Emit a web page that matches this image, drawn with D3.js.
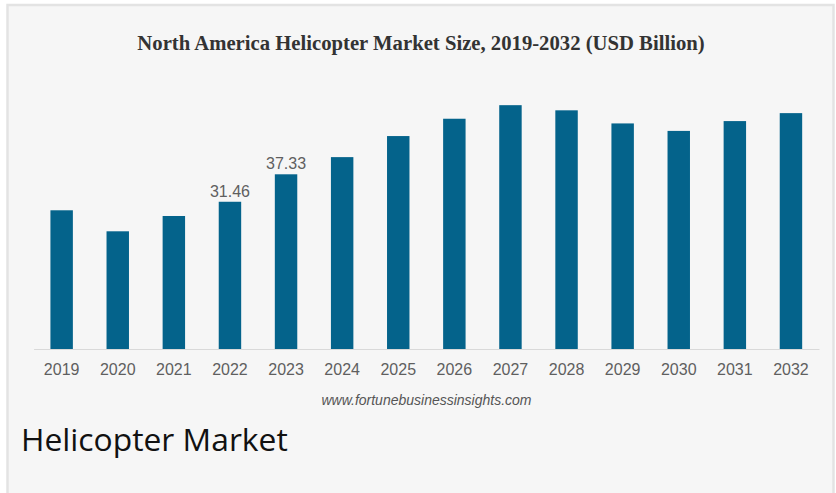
<!DOCTYPE html>
<html>
<head>
<meta charset="utf-8">
<script src="https://cdn.jsdelivr.net/npm/d3@7"></script>
<style>
  body { margin: 0; background: #fff; }
  svg { display: block; }
</style>
</head>
<body>
<svg id="chart" width="836" height="493"></svg>
<script>
/******** Data ********/
var years = ["2019", "2020", "2021", "2022", "2023", "2024", "2025",
             "2026", "2027", "2028", "2029", "2030", "2031", "2032"];
var marketSize = [29.64, 25.15, 28.42, 31.46, 37.33, 41.0, 45.5,
                  49.2, 52.1, 51.0, 48.2, 46.6, 48.7, 50.4];
// only these bars carry a value label
var labelledYears = ["2022", "2023"];

var title = "North America Helicopter Market Size, 2019-2032 (USD Billion)";
var source = "www.fortunebusinessinsights.com";
var caption = "Helicopter Market";

var data = years.map((y, i) => ({ year: y, value: marketSize[i] }));

var svg = d3.select("#chart");

// card background
svg.append("rect")
  .attr("x", 7.5)
  .attr("y", 5)
  .attr("width", 826)
  .attr("height", 520)
  .attr("fill", "#f6f6f6")
  .attr("stroke", "#e3e3e3")
  .attr("stroke-width", 2.5);

/******** Scales ********/
var x = d3.scaleBand()
  .domain(years)
  .range([33.6, 819])
  .paddingInner(0.6)
  .paddingOuter(0.3);

var y = d3.scaleLinear()
  .domain([0, 60])
  .range([349, 349 - 60 * 4.68]);

/******** Bars ********/
svg.append("g")
  .selectAll("rect")
  .data(data)
  .enter()
  .append("rect")
  .attr("x", d => x(d.year))
  .attr("y", d => y(d.value))
  .attr("width", x.bandwidth())
  .attr("height", d => y(0) - y(d.value))
  .attr("fill", "#04638b");

// value labels
svg.append("g")
  .selectAll("text")
  .data(data.filter(d => labelledYears.includes(d.year)))
  .enter()
  .append("text")
  .attr("x", d => x(d.year) + x.bandwidth() / 2)
  .attr("y", d => y(d.value) - 5)
  .attr("text-anchor", "middle")
  .style("font-family", "'Liberation Sans', Arial, sans-serif")
  .style("font-size", "16px")
  .style("fill", "#5f5f5f")
  .text(d => d.value.toFixed(2));

/******** Axis ********/
var xAxis = d3.axisBottom(x)
  .tickSize(0)
  .tickPadding(15)
  .tickSizeOuter(0);

var axisGroup = svg.append("g")
  .attr("transform", "translate(0," + y(0) + ")")
  .call(xAxis);

axisGroup.select(".domain")
  .attr("stroke", "#d9d9d9")
  .attr("stroke-width", 1.2);

axisGroup.selectAll("text")
  .style("font-family", "'Liberation Sans', Arial, sans-serif")
  .style("font-size", "16px")
  .style("fill", "#5f5f5f");

/******** Texts ********/
svg.append("text")
  .attr("x", 421)
  .attr("y", 50)
  .attr("text-anchor", "middle")
  .style("font-family", "'Liberation Serif', 'Times New Roman', serif")
  .style("font-weight", "bold")
  .style("font-size", "20.7px")
  .style("fill", "#333")
  .text(title);

svg.append("text")
  .attr("x", 426.5)
  .attr("y", 405)
  .attr("text-anchor", "middle")
  .style("font-family", "'Liberation Sans', Arial, sans-serif")
  .style("font-style", "italic")
  .style("font-size", "14px")
  .style("fill", "#555")
  .text(source);

svg.append("text")
  .attr("x", 21)
  .attr("y", 451)
  .style("font-family", "'Open Sans', sans-serif")
  .style("font-size", "31.8px")
  .style("fill", "#111")
  .text(caption);
</script>
</body>
</html>
